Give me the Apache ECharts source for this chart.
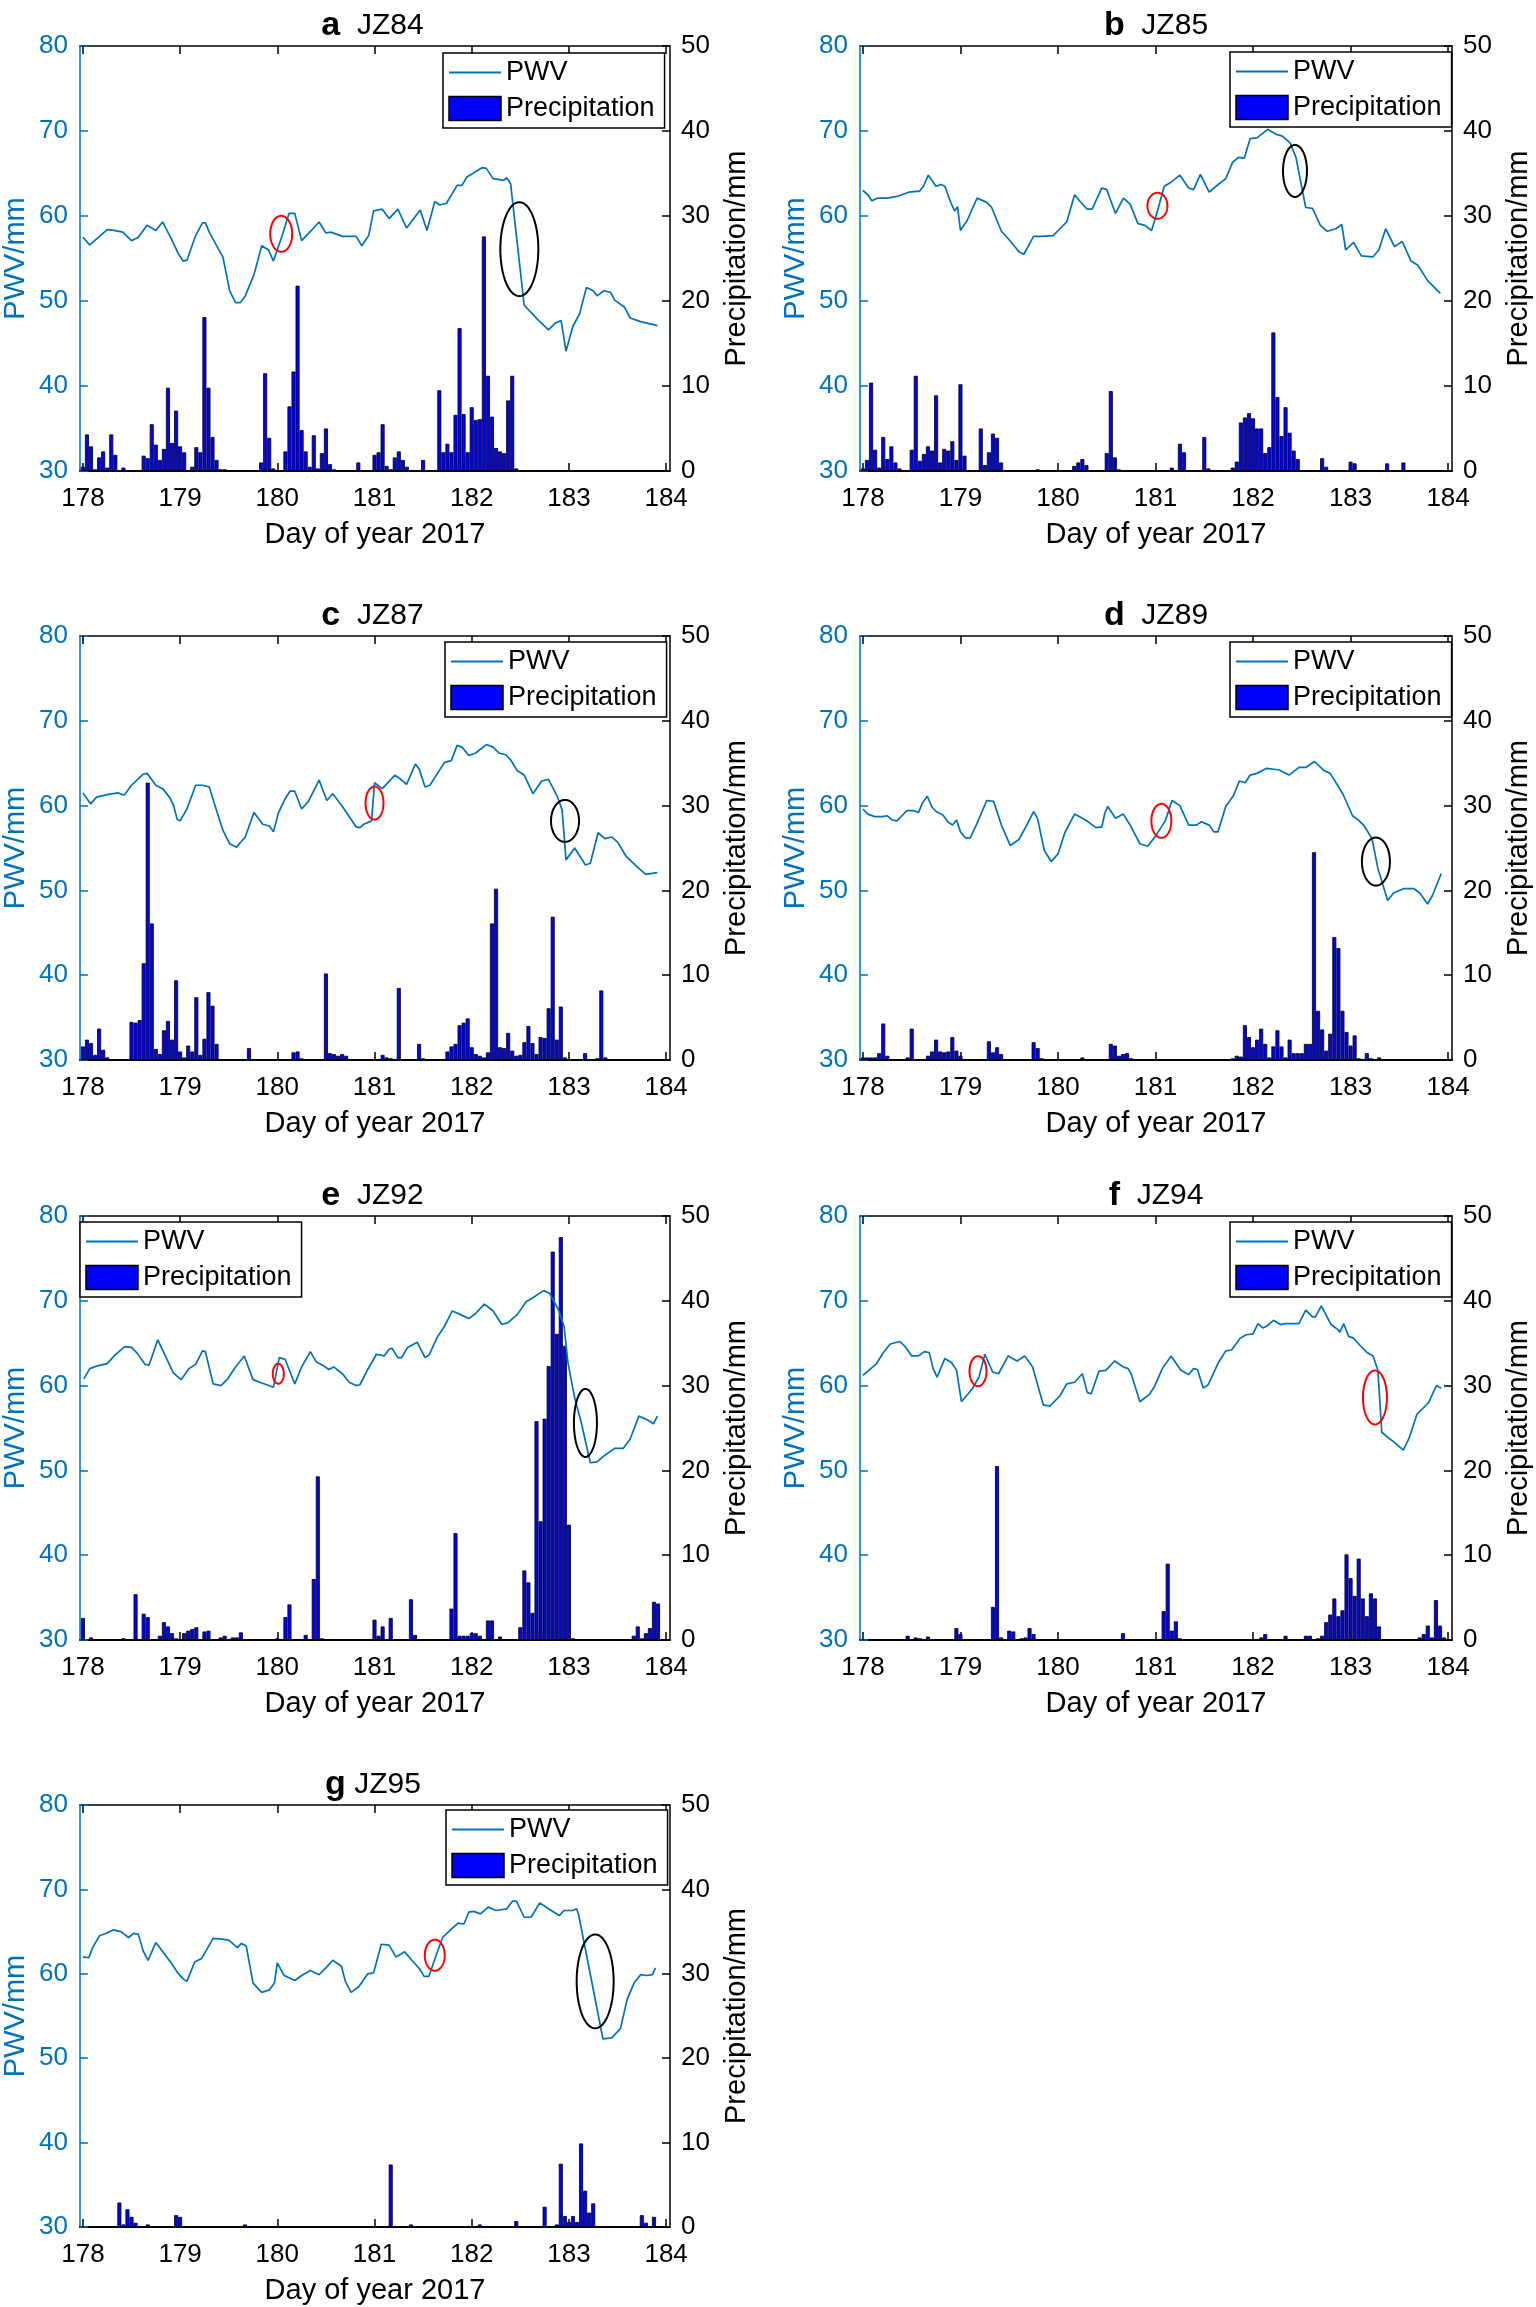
<!DOCTYPE html>
<html><head><meta charset="utf-8">
<script src="https://cdn.jsdelivr.net/npm/echarts@6/dist/echarts.min.js"></script>
<style>html,body{margin:0;padding:0;background:#fff}#c{width:1536px;height:2307px}</style>
</head><body><div id="c"></div>
<script>
// ---------- tick labels / categories ----------
const dayTicks = [178, 179, 180, 181, 182, 183, 184];
const stations = ['JZ84', 'JZ85', 'JZ87', 'JZ89', 'JZ92', 'JZ94', 'JZ95'];
const panelLetters = ['a', 'b', 'c', 'd', 'e', 'f', 'g'];

// ---------- PWV series: [day of year, PWV mm] ----------
const pwvA = [[178.00,57.5],[178.07,56.6],[178.25,58.4],[178.32,58.3],[178.41,58.1],[178.50,57.1],[178.57,57.5],[178.66,58.9],[178.75,58.3],[178.82,59.3],[178.91,57.3],[178.98,55.6],[179.03,54.7],[179.07,54.8],[179.16,57.7],[179.23,59.2],[179.26,59.2],[179.30,58.1],[179.39,56.2],[179.44,55.2],[179.51,51.2],[179.57,49.8],[179.62,49.8],[179.67,50.6],[179.76,53.1],[179.84,56.5],[179.91,56.0],[179.96,54.7],[180.05,57.7],[180.12,60.3],[180.18,60.3],[180.25,57.1],[180.35,58.3],[180.43,59.3],[180.50,58.0],[180.55,58.1],[180.67,57.6],[180.81,57.6],[180.87,56.5],[180.94,57.7],[180.99,60.6],[181.08,60.8],[181.15,59.7],[181.24,60.8],[181.33,58.6],[181.47,60.7],[181.54,58.3],[181.62,61.7],[181.67,61.3],[181.74,61.5],[181.85,63.6],[181.90,63.6],[181.95,64.6],[182.01,65.0],[182.11,65.7],[182.15,65.6],[182.22,64.4],[182.33,64.2],[182.36,64.5],[182.40,63.8],[182.54,49.5],[182.68,47.8],[182.79,46.6],[182.86,47.4],[182.92,47.7],[182.97,44.1],[183.04,47.0],[183.11,48.5],[183.18,51.6],[183.25,51.2],[183.29,50.6],[183.36,51.2],[183.43,51.0],[183.47,50.1],[183.57,49.3],[183.63,48.0],[183.73,47.6],[183.91,47.1]];
const pwvB = [[178.00,63.0],[178.05,62.5],[178.09,61.8],[178.15,62.1],[178.25,62.1],[178.35,62.3],[178.47,62.8],[178.55,62.9],[178.58,62.9],[178.62,63.5],[178.67,64.8],[178.75,63.5],[178.80,63.7],[178.84,63.5],[178.90,61.6],[178.94,60.6],[178.97,61.1],[179.00,58.3],[179.07,59.5],[179.17,62.1],[179.27,61.6],[179.32,61.0],[179.42,58.2],[179.50,57.2],[179.60,55.8],[179.65,55.5],[179.75,57.6],[179.82,57.6],[179.95,57.7],[180.02,58.5],[180.09,59.3],[180.17,62.5],[180.22,61.8],[180.30,60.8],[180.35,60.8],[180.45,63.3],[180.50,63.1],[180.59,60.3],[180.67,62.1],[180.74,61.4],[180.82,59.1],[180.89,58.9],[180.96,58.3],[181.02,60.6],[181.09,63.5],[181.15,63.9],[181.25,64.8],[181.34,63.3],[181.39,63.1],[181.46,64.9],[181.55,62.8],[181.62,63.5],[181.72,64.4],[181.79,66.3],[181.85,66.9],[181.91,66.8],[181.97,69.1],[182.04,69.2],[182.15,70.2],[182.24,69.6],[182.30,69.4],[182.38,68.6],[182.44,66.9],[182.54,61.0],[182.61,60.9],[182.69,58.9],[182.76,58.2],[182.85,58.5],[182.91,59.0],[182.95,56.0],[183.03,56.9],[183.11,55.3],[183.23,55.2],[183.29,56.0],[183.36,58.5],[183.45,56.4],[183.53,57.0],[183.62,54.7],[183.69,54.2],[183.79,52.4],[183.92,50.9]];
const pwvC = [[178.00,61.5],[178.08,60.2],[178.14,61.0],[178.25,61.3],[178.36,61.5],[178.40,61.3],[178.43,61.3],[178.50,62.4],[178.62,63.7],[178.66,63.8],[178.75,62.4],[178.82,62.0],[178.89,61.0],[178.93,60.1],[178.97,58.4],[179.00,58.2],[179.07,59.6],[179.16,62.4],[179.23,62.4],[179.30,62.2],[179.37,59.6],[179.44,57.1],[179.51,55.5],[179.58,55.1],[179.67,56.3],[179.76,59.2],[179.85,57.8],[179.92,57.6],[179.96,56.9],[180.01,59.1],[180.08,60.8],[180.13,61.7],[180.18,61.7],[180.25,59.6],[180.32,60.5],[180.43,63.0],[180.51,60.6],[180.57,61.4],[180.67,59.9],[180.81,57.5],[180.85,57.4],[180.89,57.8],[180.97,58.2],[181.00,62.7],[181.08,62.0],[181.21,63.6],[181.27,63.1],[181.33,62.5],[181.42,64.9],[181.46,64.3],[181.52,62.2],[181.57,62.4],[181.72,65.1],[181.79,65.3],[181.85,67.1],[181.90,66.9],[181.97,65.9],[182.04,66.2],[182.15,67.2],[182.22,66.9],[182.28,66.2],[182.35,66.0],[182.40,65.4],[182.47,64.1],[182.54,63.6],[182.63,61.4],[182.72,62.9],[182.79,63.1],[182.88,61.1],[182.93,59.5],[182.97,53.6],[183.06,55.0],[183.17,53.0],[183.22,53.2],[183.30,56.8],[183.37,56.1],[183.44,56.3],[183.50,55.7],[183.59,54.0],[183.70,52.8],[183.79,51.9],[183.91,52.1]];
const pwvD = [[178.00,59.6],[178.05,59.0],[178.12,58.7],[178.20,58.7],[178.25,58.8],[178.30,58.3],[178.35,58.2],[178.40,58.8],[178.45,59.4],[178.52,59.4],[178.57,59.2],[178.61,60.3],[178.66,61.1],[178.71,59.8],[178.75,59.3],[178.82,58.9],[178.87,58.1],[178.92,57.7],[178.96,58.3],[179.00,56.9],[179.05,56.2],[179.10,56.2],[179.17,57.9],[179.27,60.6],[179.34,60.5],[179.42,57.7],[179.51,55.3],[179.60,56.0],[179.67,57.5],[179.75,59.3],[179.79,58.5],[179.86,54.7],[179.93,53.4],[180.00,54.3],[180.07,56.8],[180.17,59.0],[180.25,58.5],[180.32,58.0],[180.39,57.4],[180.45,57.5],[180.48,59.1],[180.51,59.9],[180.59,58.5],[180.67,59.0],[180.75,57.5],[180.84,55.5],[180.92,55.2],[181.00,56.4],[181.10,58.2],[181.17,60.6],[181.25,60.0],[181.34,57.7],[181.42,57.7],[181.47,58.1],[181.55,57.7],[181.60,56.9],[181.64,56.9],[181.72,59.9],[181.80,61.2],[181.86,62.9],[181.92,62.7],[181.97,63.6],[182.04,63.8],[182.14,64.4],[182.27,64.2],[182.37,63.6],[182.47,64.5],[182.54,64.5],[182.63,65.2],[182.72,64.2],[182.79,63.8],[182.84,62.9],[182.92,61.4],[183.02,58.8],[183.09,58.2],[183.14,57.6],[183.22,56.1],[183.28,52.6],[183.38,48.8],[183.44,49.7],[183.54,50.2],[183.65,50.2],[183.71,49.7],[183.79,48.4],[183.84,49.4],[183.93,52.0]];
const pwvE = [[178.01,60.8],[178.07,62.0],[178.14,62.3],[178.25,62.6],[178.33,63.6],[178.43,64.6],[178.50,64.5],[178.56,63.8],[178.64,62.5],[178.68,62.4],[178.77,65.4],[178.84,63.7],[178.93,61.5],[179.01,60.7],[179.09,62.0],[179.16,62.5],[179.23,64.1],[179.26,64.0],[179.34,60.2],[179.42,60.0],[179.49,60.8],[179.57,62.2],[179.66,63.5],[179.75,60.7],[179.84,60.3],[179.96,59.8],[180.02,63.3],[180.08,63.1],[180.18,60.2],[180.25,62.2],[180.34,64.0],[180.40,62.8],[180.48,62.3],[180.53,61.9],[180.58,62.2],[180.67,61.4],[180.74,60.4],[180.81,60.0],[180.85,60.1],[180.93,61.9],[181.02,63.7],[181.10,63.5],[181.15,64.3],[181.18,64.4],[181.24,63.3],[181.28,63.3],[181.34,64.5],[181.44,65.1],[181.52,63.3],[181.56,63.6],[181.65,65.8],[181.72,67.0],[181.80,68.8],[181.88,68.4],[181.97,67.9],[182.04,68.5],[182.13,69.6],[182.22,68.8],[182.31,67.2],[182.37,67.4],[182.47,68.4],[182.56,69.9],[182.62,70.3],[182.74,71.2],[182.80,70.9],[182.89,69.0],[182.95,67.0],[182.99,62.7],[183.06,58.5],[183.13,55.5],[183.22,50.9],[183.29,51.0],[183.36,51.7],[183.47,52.6],[183.56,52.6],[183.63,53.7],[183.72,56.4],[183.80,56.0],[183.87,55.5],[183.91,56.4]];
const pwvF = [[178.00,61.2],[178.06,61.8],[178.14,62.6],[178.21,63.9],[178.28,64.9],[178.38,65.2],[178.44,64.5],[178.50,63.5],[178.57,63.5],[178.63,64.0],[178.68,63.9],[178.72,62.0],[178.76,61.0],[178.84,63.2],[178.91,62.7],[178.96,61.8],[179.01,58.1],[179.12,59.6],[179.19,61.0],[179.25,63.7],[179.33,61.6],[179.39,61.4],[179.49,63.5],[179.58,62.9],[179.66,63.5],[179.74,62.2],[179.85,57.7],[179.92,57.6],[180.02,58.8],[180.09,60.2],[180.17,60.4],[180.25,61.4],[180.30,59.2],[180.34,59.0],[180.42,61.7],[180.49,61.8],[180.58,62.9],[180.67,62.2],[180.72,62.0],[180.75,61.4],[180.84,58.1],[180.94,59.0],[180.99,59.9],[181.07,62.0],[181.16,63.5],[181.26,61.8],[181.34,61.3],[181.39,62.0],[181.43,61.9],[181.49,59.7],[181.54,60.1],[181.64,62.6],[181.72,64.1],[181.78,64.2],[181.87,65.6],[181.93,66.0],[182.00,66.1],[182.05,67.3],[182.10,66.8],[182.14,67.0],[182.21,67.7],[182.28,67.2],[182.33,67.3],[182.47,67.3],[182.54,68.9],[182.61,68.1],[182.64,68.1],[182.70,69.4],[182.80,67.2],[182.87,66.6],[182.89,66.3],[182.93,67.3],[182.98,65.8],[183.03,65.6],[183.10,64.7],[183.17,63.9],[183.23,63.5],[183.28,61.8],[183.32,54.5],[183.37,54.0],[183.44,53.4],[183.54,52.4],[183.60,53.8],[183.68,56.6],[183.74,57.3],[183.80,58.0],[183.88,60.0],[183.93,59.7]];
const pwvG = [[178.00,62.0],[178.06,61.9],[178.10,63.1],[178.17,64.5],[178.24,64.8],[178.31,65.2],[178.39,65.0],[178.47,64.3],[178.52,64.8],[178.57,64.7],[178.62,62.7],[178.67,61.6],[178.75,63.7],[178.83,62.5],[178.92,61.1],[178.97,60.2],[179.03,59.4],[179.07,59.1],[179.15,61.4],[179.22,61.8],[179.34,64.2],[179.43,64.1],[179.50,64.0],[179.59,63.1],[179.63,63.6],[179.68,63.3],[179.75,58.9],[179.84,57.8],[179.92,58.1],[179.97,58.9],[180.00,61.3],[180.07,59.8],[180.18,59.2],[180.25,59.8],[180.34,60.4],[180.43,59.9],[180.50,60.7],[180.57,61.6],[180.66,60.9],[180.70,59.1],[180.76,57.8],[180.84,58.5],[180.93,60.0],[180.99,60.1],[181.07,63.5],[181.15,63.4],[181.22,62.0],[181.31,62.6],[181.40,61.4],[181.47,60.5],[181.51,59.7],[181.56,59.7],[181.61,61.4],[181.70,64.3],[181.79,65.3],[181.86,66.0],[181.92,65.9],[181.97,67.3],[182.02,67.4],[182.09,67.1],[182.17,67.9],[182.25,67.5],[182.36,67.7],[182.42,68.6],[182.46,68.6],[182.54,66.7],[182.61,66.7],[182.70,68.4],[182.79,67.7],[182.90,66.9],[182.95,67.5],[183.04,67.5],[183.08,67.7],[183.10,67.0],[183.35,52.3],[183.44,52.4],[183.53,53.5],[183.60,57.0],[183.67,58.9],[183.74,59.9],[183.80,59.8],[183.86,59.9],[183.89,60.7]];

// ---------- hourly precipitation: [hour since day 178, mm] ----------
const rainA = [[0,0.5],[1,4.3],[2,2.9],[3,0.2],[4,1.6],[5,2.3],[6,0.4],[7,4.3],[8,1.9],[9,0.1],[10,0.4],[11,0.1],[15,1.8],[16,1.5],[17,5.5],[18,3.1],[19,1.3],[20,2.6],[21,9.8],[22,3.3],[23,7.1],[24,2.9],[25,2.2],[27,0.5],[28,2.8],[29,2.2],[30,18.1],[31,9.8],[32,4.0],[33,1.3],[34,0.2],[35,0.2],[44,1.0],[45,11.5],[46,3.9],[47,0.3],[50,2.3],[51,7.6],[52,11.7],[53,21.8],[54,4.8],[55,2.3],[56,0.5],[57,4.2],[58,0.3],[59,2.1],[60,5.0],[61,0.8],[62,0.2],[63,0.1],[64,0.1],[65,0.1],[68,1.0],[72,1.9],[73,2.2],[74,5.5],[75,0.6],[76,0.2],[77,1.6],[78,2.3],[79,1.3],[80,0.5],[84,1.3],[88,9.5],[89,2.2],[90,3.2],[91,2.2],[92,6.6],[93,16.8],[94,6.7],[95,2.2],[96,7.5],[97,6.0],[98,6.1],[99,27.6],[100,11.2],[101,6.4],[102,2.7],[103,2.3],[104,2.1],[105,8.3],[106,11.2],[107,0.3]];
const rainB = [[0,0.3],[1,1.3],[2,10.4],[3,2.5],[4,0.4],[5,4.0],[6,1.4],[7,2.9],[8,1.0],[9,0.3],[11,0.1],[12,2.5],[13,11.2],[14,1.2],[15,2.0],[16,2.9],[17,2.4],[18,8.9],[19,1.0],[20,2.6],[21,2.4],[22,3.5],[23,1.3],[24,10.2],[25,1.8],[29,5.0],[30,0.7],[31,2.2],[32,4.4],[33,3.9],[34,1.0],[43,0.2],[52,0.6],[53,1.0],[54,1.4],[55,0.7],[60,2.1],[61,9.4],[62,1.6],[63,0.2],[64,0.1],[76,0.4],[78,3.2],[79,2.2],[84,4.0],[85,0.3],[91,0.4],[92,1.1],[93,5.7],[94,6.3],[95,6.8],[96,6.2],[97,5.0],[98,5.0],[99,2.1],[100,2.8],[101,16.3],[102,8.7],[103,4.1],[104,7.5],[105,4.5],[106,2.4],[107,1.4],[113,1.5],[114,0.5],[116,0.1],[117,0.1],[120,1.1],[121,0.9],[129,0.9],[133,1.0]];
const rainC = [[0,1.6],[1,2.4],[2,2.0],[3,0.6],[4,3.7],[5,1.2],[6,0.3],[12,4.5],[13,4.4],[14,4.7],[15,11.4],[16,32.7],[17,16.1],[18,1.3],[19,0.7],[20,3.5],[21,4.6],[22,2.4],[23,9.4],[24,1.0],[25,0.3],[26,1.7],[27,1.0],[28,7.4],[29,0.6],[30,2.5],[31,8.0],[32,6.4],[33,1.9],[35,0.1],[41,1.4],[47,0.1],[52,0.9],[53,1.0],[54,0.2],[60,10.2],[61,0.8],[62,0.7],[63,0.5],[64,0.7],[65,0.5],[74,0.6],[75,0.3],[76,0.2],[78,8.5],[83,1.9],[84,0.2],[90,1.0],[91,1.6],[92,1.9],[93,4.1],[94,4.4],[95,4.9],[96,1.5],[97,0.7],[98,0.5],[99,0.3],[100,0.9],[101,16.1],[102,20.2],[103,1.5],[104,1.4],[105,3.2],[106,1.1],[107,0.5],[108,0.6],[109,2.1],[110,4.0],[111,2.0],[112,0.7],[113,2.7],[114,2.6],[115,6.1],[116,16.9],[117,2.4],[118,6.3],[119,0.3],[120,0.1],[124,0.8],[125,0.1],[127,0.2],[128,8.2],[129,0.3]];
const rainD = [[0,0.3],[1,0.3],[2,0.3],[3,0.3],[4,0.8],[5,4.3],[6,0.5],[11,0.3],[12,3.7],[16,0.5],[17,1.0],[18,2.4],[19,1.0],[20,0.9],[21,1.0],[22,2.7],[23,1.1],[24,0.5],[31,2.2],[32,0.9],[33,1.5],[34,0.7],[36,0.1],[42,2.1],[43,1.4],[44,0.2],[47,0.1],[54,0.3],[61,1.9],[62,1.7],[63,0.5],[64,0.7],[65,0.8],[66,0.2],[72,0.1],[91,0.2],[92,0.5],[93,0.4],[94,4.1],[95,2.7],[96,1.5],[97,2.4],[98,3.7],[99,1.9],[100,0.3],[101,1.6],[102,3.5],[103,1.6],[104,0.3],[105,2.4],[106,0.8],[107,0.8],[108,0.8],[109,1.9],[110,1.9],[111,24.5],[112,5.8],[113,3.6],[114,1.1],[115,3.1],[116,14.5],[117,13.2],[118,5.8],[119,3.3],[120,1.7],[121,2.9],[122,0.2],[124,0.8],[125,0.2],[127,0.3]];
const rainE = [[0,2.6],[2,0.3],[4,0.1],[5,0.1],[10,0.2],[13,5.4],[15,3.1],[16,2.7],[19,0.5],[20,2.1],[21,1.6],[22,0.8],[23,0.2],[25,0.8],[26,1.1],[27,1.3],[28,1.5],[29,0.1],[30,1.0],[31,1.1],[33,0.1],[34,0.3],[35,0.5],[37,0.3],[38,0.3],[39,0.9],[41,0.1],[42,0.1],[48,0.2],[50,2.7],[51,4.2],[55,0.6],[57,7.2],[58,19.3],[59,0.2],[70,0.1],[72,2.4],[73,0.5],[74,1.6],[76,2.6],[77,0.1],[81,4.8],[82,0.6],[91,3.7],[92,12.6],[93,0.5],[94,0.5],[95,0.5],[96,0.8],[97,0.8],[98,0.5],[99,0.1],[100,2.3],[101,2.3],[102,0.1],[103,0.4],[108,1.5],[109,8.2],[110,6.8],[111,3.2],[112,25.8],[113,14.0],[114,26.1],[115,32.3],[116,45.8],[117,36.1],[118,47.5],[119,34.7],[120,13.6],[121,0.2],[122,0.1],[123,0.1],[128,0.1],[136,0.5],[137,1.6],[138,0.2],[139,0.8],[140,1.4],[141,4.5],[142,4.3]];
const rainF = [[11,0.5],[13,0.3],[14,0.2],[16,0.4],[23,1.4],[24,0.7],[32,3.9],[33,20.5],[34,0.3],[36,1.1],[37,1.0],[39,0.2],[40,0.3],[41,1.4],[42,0.7],[44,0.1],[64,0.8],[74,3.4],[75,9.0],[76,1.1],[77,2.2],[78,0.2],[98,0.3],[99,0.7],[104,0.5],[109,0.5],[110,0.5],[112,0.2],[113,0.5],[114,2.1],[115,3.0],[116,4.9],[117,2.8],[118,3.5],[119,10.1],[120,7.3],[121,5.2],[122,9.6],[123,4.9],[124,2.8],[125,5.5],[126,4.9],[127,1.6],[136,0.1],[137,0.3],[138,0.7],[139,1.7],[140,0.3],[141,4.7],[142,1.7],[143,0.3]];
const rainG = [[9,2.9],[10,0.3],[11,2.1],[12,1.2],[13,0.5],[16,0.3],[18,0.1],[20,0.1],[23,1.4],[24,1.2],[25,0.1],[40,0.3],[76,7.4],[81,0.3],[98,0.3],[107,0.7],[114,2.4],[117,0.3],[118,7.5],[119,1.3],[120,0.6],[121,1.3],[122,0.6],[123,9.9],[124,4.3],[125,1.7],[126,2.8],[127,0.1],[138,1.4],[139,0.5],[141,1.2]];

// ---------- ellipse annotations (centre in data units) ----------
const RED = '#ff0000', BLACK = '#000000';
const ellipseMarks = [
  [{day:180.04,pwv:57.9,rx:11,ry:18,color:RED},{day:182.49,pwv:56.1,rx:19,ry:47,color:BLACK}],
  [{day:181.02,pwv:61.2,rx:10,ry:13,color:RED},{day:182.43,pwv:65.3,rx:12,ry:26,color:BLACK}],
  [{day:181.00,pwv:60.3,rx:9,ry:16.5,color:RED},{day:182.96,pwv:58.2,rx:14,ry:21,color:BLACK}],
  [{day:181.06,pwv:58.2,rx:10,ry:17,color:RED},{day:183.26,pwv:53.4,rx:14,ry:24,color:BLACK}],
  [{day:180.01,pwv:61.4,rx:5.5,ry:10,color:RED},{day:183.17,pwv:55.6,rx:11.5,ry:34,color:BLACK}],
  [{day:179.18,pwv:61.7,rx:8.5,ry:15,color:RED},{day:183.25,pwv:58.6,rx:12,ry:27,color:RED}],
  [{day:181.62,pwv:62.2,rx:10,ry:15.5,color:RED},{day:183.27,pwv:59.1,rx:18.5,ry:47,color:BLACK}]
];

const pwvSeries = [pwvA, pwvB, pwvC, pwvD, pwvE, pwvF, pwvG];
const rainSeries = [rainA, rainB, rainC, rainD, rainE, rainF, rainG];

// ---------- layout ----------
const layouts = [
  {left:75,  top:46,   width:595, height:425, lg:[443,53]},
  {left:860, top:46,   width:592, height:425, lg:[1230,52]},
  {left:75,  top:636,  width:595, height:424, lg:[445,642]},
  {left:860, top:636,  width:592, height:424, lg:[1230,642]},
  {left:75,  top:1216, width:595, height:424, lg:[80,1222]},
  {left:860, top:1216, width:592, height:424, lg:[1230,1222]},
  {left:76,  top:1805, width:594, height:422, lg:[446,1810]}
];
const FONT = '"Liberation Sans", Arial, Helvetica, sans-serif';
const BLUE = '#0072BD';

const option = {animation:false, backgroundColor:'#fff', grid:[], xAxis:[], yAxis:[], series:[], legend:[], graphic:[]};

layouts.forEach((L, i) => {
  option.grid.push({left:L.left, top:L.top, width:L.width, height:L.height, containLabel:false});
  const xCommon = {gridIndex:i, type:'value', min:177.97, max:184.04, splitLine:{show:false}};
  option.xAxis.push(Object.assign({}, xCommon, {
    position:'bottom',
    axisLine:{show:true, onZero:false, lineStyle:{color:'#000', width:1.8}},
    axisTick:{show:true, inside:true, length:8, customValues:dayTicks, lineStyle:{color:'#000', width:1.5}},
    axisLabel:{show:true, customValues:dayTicks, fontSize:26, color:'#000', margin:15, fontFamily:FONT},
    name:'Day of year 2017', nameLocation:'middle', nameGap:49,
    nameTextStyle:{fontSize:29, color:'#000', fontFamily:FONT}
  }));
  option.xAxis.push(Object.assign({}, xCommon, {
    position:'top',
    axisLine:{show:true, onZero:false, lineStyle:{color:'#000', width:1.5}},
    axisTick:{show:true, inside:true, length:8, customValues:dayTicks, lineStyle:{color:'#000', width:1.5}},
    axisLabel:{show:false}
  }));
  option.yAxis.push({
    gridIndex:i, type:'value', min:30, max:80, interval:10, position:'left', splitLine:{show:false},
    axisLine:{show:true, onZero:false, lineStyle:{color:BLUE, width:1.5}},
    axisTick:{show:true, inside:true, length:8, lineStyle:{color:BLUE, width:1.5}},
    axisLabel:{fontSize:26, color:BLUE, margin:12, fontFamily:FONT},
    name:'PWV/mm', nameLocation:'middle', nameGap:50, nameRotate:90,
    nameTextStyle:{fontSize:29, color:BLUE, fontFamily:FONT}
  });
  option.yAxis.push({
    gridIndex:i, type:'value', min:0, max:50, interval:10, position:'right', splitLine:{show:false},
    axisLine:{show:true, onZero:false, lineStyle:{color:'#000', width:1.5}},
    axisTick:{show:true, inside:true, length:8, lineStyle:{color:'#000', width:1.5}},
    axisLabel:{fontSize:26, color:'#000', margin:11, fontFamily:FONT},
    name:'Precipitation/mm', nameLocation:'middle', nameGap:52, nameRotate:90,
    nameTextStyle:{fontSize:29, color:'#000', fontFamily:FONT}
  });

  option.series.push({
    name:'Precipitation', type:'bar', xAxisIndex:2*i, yAxisIndex:2*i+1,
    data: rainSeries[i].map(([h, v]) => [178 + h/24, v]),
    barWidth:4, itemStyle:{color:'#0000ff', borderColor:'#000', borderWidth:0.8}, z:2
  });
  option.series.push({
    name:'PWV', type:'line', xAxisIndex:2*i, yAxisIndex:2*i,
    data: pwvSeries[i], symbol:'none', showSymbol:false,
    lineStyle:{color:BLUE, width:1.7}, itemStyle:{color:BLUE}, z:3
  });
  const marks = ellipseMarks[i];
  option.series.push({
    type:'custom', xAxisIndex:2*i, yAxisIndex:2*i, silent:true, z:5, clip:false,
    data: marks.map(m => [m.day, m.pwv]),
    renderItem: (params, api) => {
      const m = marks[params.dataIndex];
      const c = api.coord([api.value(0), api.value(1)]);
      const pts = [];
      for (let k = 0; k < 90; k++) {
        const t = k / 90 * Math.PI * 2;
        pts.push([c[0] + m.rx * Math.cos(t), c[1] + m.ry * Math.sin(t)]);
      }
      return {type:'polygon', shape:{points:pts}, style:{fill:'none', stroke:m.color, lineWidth:2}};
    }
  });

  option.legend.push({
    orient:'vertical', left:L.lg[0], top:L.lg[1], selectedMode:false,
    padding:[6,10,6,5], itemGap:9, itemWidth:52, itemHeight:24,
    borderColor:'#000', borderWidth:1.5, backgroundColor:'#fff',
    textStyle:{fontSize:27, color:'#000', fontFamily:FONT, lineHeight:24},
    data:[
      {name:'PWV', itemStyle:{opacity:0}, lineStyle:{color:BLUE, width:2, opacity:1}},
      {name:'Precipitation', icon:'rect', itemStyle:{color:'#0000ff', borderColor:'#000', borderWidth:1.5}}
    ]
  });

  const sep = panelLetters[i] === 'g' ? ' ' : '  ';
  option.graphic.push({
    type:'text', x:L.left + L.width/2, y:L.top - 20, z:10,
    style:{
      text:'{b|' + panelLetters[i] + '}{n|' + sep + stations[i] + '}',
      rich:{
        b:{fontSize:34, fontWeight:'bold', fontFamily:FONT, fill:'#000', color:'#000'},
        n:{fontSize:30, fontFamily:FONT, fill:'#000', color:'#000'}
      },
      align:'center', verticalAlign:'middle'
    }
  });
});

const chart = echarts.init(document.getElementById('c'), null, {renderer:'canvas'});
chart.setOption(option);
</script>
</body></html>
